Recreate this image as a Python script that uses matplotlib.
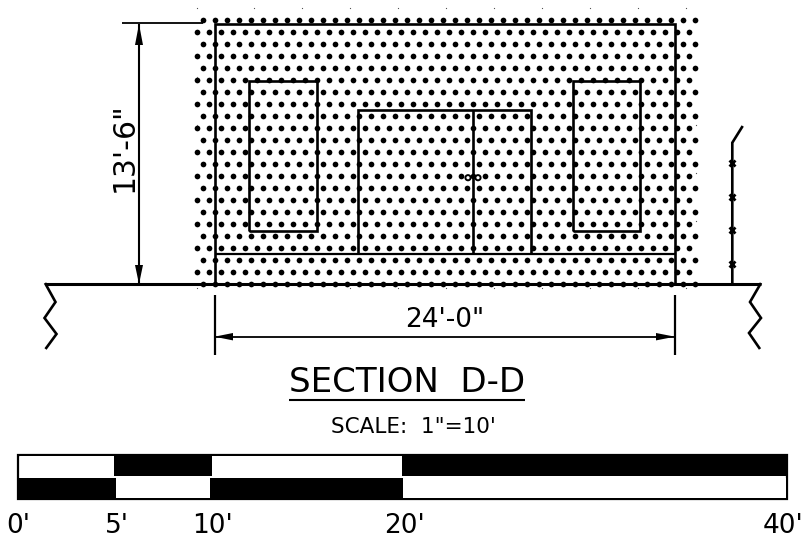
import matplotlib
matplotlib.use("Agg")
import matplotlib.pyplot as plt
from matplotlib.patches import Rectangle, Circle, Polygon

# everything is in picture pixels, y going down
dot_rows_even = [20, 44, 68, 92, 116, 140, 164, 188, 212, 236, 260, 284]
dot_rows_odd = [32, 56, 80, 104, 128, 152, 176, 200, 224, 248, 272]
dot_x_even = [203.3, 215.3, 227.3, 239.3, 251.3, 263.3, 275.3, 287.3, 299.3, 311.3, 323.3,
              335.3, 347.3, 359.3, 371.3, 383.3, 395.3, 407.3, 419.3, 431.3, 443.3,
              455.3, 467.3, 479.3, 491.3, 503.3, 515.3, 527.3, 539.3, 551.3, 563.3,
              575.3, 587.3, 599.3, 611.3, 623.3, 635.3, 647.3, 659.3, 671.3, 683.3, 695.3]
dot_x_odd = [197.3, 209.3, 221.3, 233.3, 245.3, 257.3, 269.3, 281.3, 293.3, 305.3, 317.3,
             329.3, 341.3, 353.3, 365.3, 377.3, 389.3, 401.3, 413.3, 425.3, 437.3,
             449.3, 461.3, 473.3, 485.3, 497.3, 509.3, 521.3, 533.3, 545.3, 557.3,
             569.3, 581.3, 593.3, 605.3, 617.3, 629.3, 641.3, 653.3, 665.3, 677.3, 689.3]

speck_x = [197, 254, 302, 350, 398, 446, 494, 542, 590, 638, 686,
           197, 350, 398, 446, 494, 542, 590, 638, 686, 696, 696, 696, 197, 197]
speck_y = [8, 8, 8, 8, 8, 8, 8, 8, 8, 8, 8,
           288, 288, 288, 288, 288, 288, 288, 288, 288, 125, 173, 221, 77, 125]

zigzag_left_x = [45, 55.5, 44.5, 56.5, 45.5]
zigzag_left_y = [283, 302, 318, 334, 349]
zigzag_right_x = [761, 750, 761, 749, 760]
zigzag_right_y = [283, 302, 318, 333, 349]

fence_x = [732.3, 732.3, 742.7]
fence_y = [284, 142.7, 126]
fence_mark_y = [163, 197, 230, 263.7]

bar_top_edges = [20, 114, 212, 402, 786]
bar_top_fill = ["white", "black", "white", "black"]
bar_bottom_edges = [18, 115.5, 210, 403, 786]
bar_bottom_fill = ["black", "white", "black", "white"]
scale_labels = ["0'", "5'", "10'", "20'"]
scale_label_x = [18, 117, 212, 404]

font = ["DejaVu Sans"]
lw = 1.9

fig = plt.figure(figsize=(8.05, 5.42), dpi=100)
ax = fig.add_axes([0, 0, 1, 1])
ax.set_xlim(0, 805)
ax.set_ylim(542, 0)
ax.axis("off")


def line(xs, ys, width=lw):
    ax.plot(xs, ys, color="black", lw=width, solid_capstyle="butt", solid_joinstyle="miter")


# stipple
for y in dot_rows_even:
    ax.plot(dot_x_even, [y] * len(dot_x_even), "o", color="black", ms=4.1, mew=0, snap=False)
for y in dot_rows_odd:
    ax.plot(dot_x_odd, [y] * len(dot_x_odd), "o", color="black", ms=4.1, mew=0, snap=False)
ax.plot(speck_x, speck_y, "s", color="#555555", ms=0.8, mew=0)

# building outline, windows, doors
line([214.5, 214.5, 675, 675], [284, 24, 24, 284])
line([214.5, 675], [254.3, 254.3], 1.6)
line([249.3, 249.3, 316.7, 316.7, 249.3], [231.3, 80.7, 80.7, 231.3, 231.3])
line([573, 573, 640, 640, 573], [231.3, 80.7, 80.7, 231.3, 231.3])
line([358, 358, 531.3, 531.3], [254.3, 110, 110, 254.3])
line([473.3, 473.3], [110, 254.3])
for x in [468, 478]:
    ax.add_patch(Circle((x, 177.7), 2.6, fc="white", ec="black", lw=1.4, zorder=3))

# ground and break lines
line([45, 761], [284, 284], 2.2)
line(zigzag_left_x, zigzag_left_y)
line(zigzag_right_x, zigzag_right_y)

# fence
line(fence_x, fence_y)
ax.plot([732.3] * 4, fence_mark_y, "x", color="black", ms=4.5, mew=2, zorder=3)

# height dimension
line([122, 203], [23, 23], 1.3)
line([139, 139], [24, 284], 1.5)
ax.add_patch(Polygon([(139, 24), (135, 45), (143, 45)], fc="black", ec="none"))
ax.add_patch(Polygon([(139, 284), (135, 265), (143, 265)], fc="black", ec="none"))
ax.text(124, 147, "13'-6\"", rotation=90, ha="center", va="center", fontsize=21.5, family=font)

# width dimension
line([214.5, 214.5], [295, 355], 1.6)
line([675, 675], [295, 355], 1.6)
line([214.5, 675], [336.7, 336.7], 1.3)
ax.add_patch(Polygon([(214.5, 336.7), (233, 333), (233, 340.4)], fc="black", ec="none"))
ax.add_patch(Polygon([(675, 336.7), (656, 333), (656, 340.4)], fc="black", ec="none"))
ax.text(445, 320, "24'-0\"", ha="center", va="center", fontsize=19, family=font)

# titles
ax.text(407, 382, "SECTION  D-D", ha="center", va="center", fontsize=24.5, family=font)
line([289, 525], [400, 400], 1.5)
ax.text(413, 427, "SCALE:  1\"=10'", ha="center", va="center", fontsize=15.5, family=font)

# scale bar
ax.add_patch(Rectangle((18, 455), 769, 44, fc="white", ec="black", lw=1.6))
for i, fill in enumerate(bar_top_fill):
    ax.add_patch(Rectangle((bar_top_edges[i], 456), bar_top_edges[i + 1] - bar_top_edges[i], 20,
                           fc=fill, ec="none"))
for i, fill in enumerate(bar_bottom_fill):
    ax.add_patch(Rectangle((bar_bottom_edges[i], 478), bar_bottom_edges[i + 1] - bar_bottom_edges[i], 20,
                           fc=fill, ec="none"))
for label, x in zip(scale_labels, scale_label_x):
    ax.text(x, 526, label, ha="center", va="center", fontsize=19, family=font)
ax.text(803, 526, "40'", ha="right", va="center", fontsize=19, family=font)

fig.savefig("out.png", dpi=100)
